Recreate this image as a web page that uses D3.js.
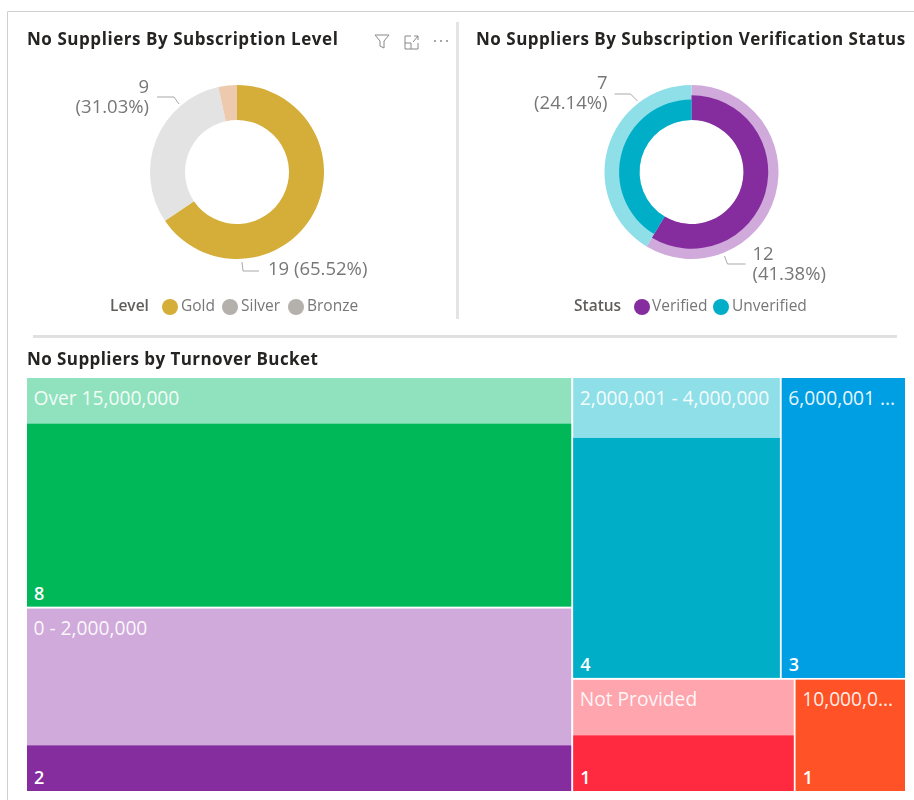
<!DOCTYPE html>
<html>
<head>
<meta charset="utf-8">
<script src="https://cdn.jsdelivr.net/npm/d3@7"></script>
<style>
  html, body { margin: 0; padding: 0; background: #fff; }
  svg { display: block; filter: blur(0.35px); }
  text { font-family: "Open Sans", sans-serif; }
  .title { font-weight: 700; font-size: 17px; fill: #252423; letter-spacing: 0.55px; }
  .title.wide { letter-spacing: 0.5px; }
  .title.low { letter-spacing: 0.42px; }
  .label { font-size: 18.5px; fill: #777; }
  .legend-title { font-size: 15.5px; font-weight: 600; fill: #605e5c; }
  .legend { font-size: 15.5px; fill: #777; }
  .bucket { font-size: 19.2px; fill: #fff; fill-opacity: 0.92; }
  .count { font-size: 18px; font-weight: 600; fill: #fff; }
</style>
</head>
<body>
<script>
'use strict';

// subscription level donut
var levels = ['Gold', 'Silver', 'Bronze'];
var levelCounts = [19, 9, 1];
var levelColors = ['#d4ae38', '#e3e3e3', '#edc9ae'];
var levelLegendColors = ['#d4ae38', '#b4b0ab', '#b4b0ab'];

// verification donut: ring size is the total, dark part is the verified count
var statuses = ['Verified', 'Unverified'];
var statusTotals = [17, 12];
var statusCounts = [12, 7];
var statusColors = ['#852d9e', '#00aec7'];
var statusPale = ['#cfaada', '#8fdfe8'];

// turnover treemap
var buckets = ['Over 15,000,000', '0 - 2,000,000', '2,000,001 - 4,000,000', '6,000,001 ...', 'Not Provided', '10,000,0...'];
var bucketTotals = [10, 8, 5, 3, 2, 1];
var bucketCounts = [8, 2, 4, 3, 1, 1];
var bucketColors = ['#00b858', '#852d9e', '#00aec7', '#009fe3', '#ff2a40', '#ff5226'];
var bucketPale = ['#8fe2bd', '#cfaada', '#8fdfe8', '#009fe3', '#ffa5ae', '#ff5226'];
var bucketLayout = [[0, 1], [[2, 3], [4, 5]]];

var width = 914, height = 800;
var innerRadius = 52, outerRadius = 87;
var total = d3.sum(levelCounts);

var svg = d3.select('body').append('svg')
    .attr('width', width)
    .attr('height', height);

// frame and dividers
svg.append('path')
    .attr('d', 'M7.5,800V11.5H914')
    .attr('fill', 'none')
    .attr('stroke', '#d0d0d0')
    .attr('stroke-width', 1);
svg.append('rect').attr('x', 456).attr('y', 22).attr('width', 3).attr('height', 297).attr('fill', '#e4e4e4');
svg.append('rect').attr('x', 33).attr('y', 335).attr('width', 864).attr('height', 3).attr('fill', '#e0e0e0');

svg.append('text').attr('class', 'title').attr('x', 27).attr('y', 45).text('No Suppliers By Subscription Level');
svg.append('text').attr('class', 'title wide').attr('x', 476).attr('y', 45).text('No Suppliers By Subscription Verification Status');
svg.append('text').attr('class', 'title low').attr('x', 27).attr('y', 365).text('No Suppliers by Turnover Bucket');

// header icons on the first visual
var icons = svg.append('g')
    .attr('fill', 'none')
    .attr('stroke', '#8a8886')
    .attr('stroke-width', 1);
icons.append('path').attr('d', 'M375,35H389L384,41V48L380,46V41Z');
icons.append('path').attr('d', 'M411,36H405V49H418V43M405,43H411V49M413,42L418,36M414,36H418V40');
svg.append('g').attr('fill', '#8a8886').selectAll('circle')
    .data([435, 441, 447])
    .join('circle')
    .attr('cx', function(d) { return d; })
    .attr('cy', 41)
    .attr('r', 1);

var pie = d3.pie().sort(null).value(function(d) { return d; });
var radius = d3.scaleLinear().domain([0, 1]).range([innerRadius, outerRadius]);
var leader = d3.line();

function leaderLines(g, lines) {
  g.selectAll('path.leader')
      .data(lines)
      .join('path')
      .attr('class', 'leader')
      .attr('d', leader)
      .attr('fill', 'none')
      .attr('stroke', '#a8a8a8')
      .attr('stroke-width', 1);
}

// each label is one text, wrapped with tspans
function labelBlocks(g, blocks) {
  var text = g.selectAll('text.label')
      .data(blocks)
      .join('text')
      .attr('class', 'label')
      .attr('x', function(d) { return d.x; })
      .attr('y', function(d) { return d.y; })
      .attr('text-anchor', function(d) { return d.anchor; });
  text.selectAll('tspan')
      .data(function(d) { return d.lines.map(function(line) { return {x: d.x, text: line}; }); })
      .join('tspan')
      .attr('x', function(d) { return d.x; })
      .attr('dy', function(d, i) { return i ? 20 : 0; })
      .text(function(d) { return d.text; });
}

function percent(v) {
  return '(' + d3.format('.2f')(v / total * 100) + '%)';
}

function legend(title, titleX, names, colors, dots, texts) {
  svg.append('text').attr('class', 'legend-title').attr('x', titleX).attr('y', 311).text(title);
  names.forEach(function(name, i) {
    svg.append('circle').attr('cx', dots[i]).attr('cy', 307).attr('r', 8).attr('fill', colors[i]);
    svg.append('text').attr('class', 'legend').attr('x', texts[i]).attr('y', 311).text(name);
  });
}

// level donut
var levelArc = d3.arc().innerRadius(innerRadius).outerRadius(outerRadius);
var levelDonut = svg.append('g').attr('transform', 'translate(237,172)');
levelDonut.selectAll('path.slice')
    .data(pie(levelCounts))
    .join('path')
    .attr('class', 'slice')
    .attr('d', levelArc)
    .attr('fill', function(d, i) { return levelColors[i]; });
leaderLines(levelDonut, [
  [[-80, -75], [-63, -75], [-58, -68]],
  [[5, 90], [6, 99], [22, 99]]
]);
labelBlocks(levelDonut, [
  {x: -88, y: -79, anchor: 'end', lines: [levelCounts[1], percent(levelCounts[1])]},
  {x: 31, y: 103, anchor: 'start', lines: [levelCounts[0] + ' ' + percent(levelCounts[0])]}
]);
legend('Level', 110, levels, levelLegendColors, [170, 230, 296], [181, 241, 307]);

// verification donut
var statusDonut = svg.append('g').attr('transform', 'translate(691.5,172)');
var statusArcs = pie(statusTotals);
statusDonut.selectAll('path.pale')
    .data(statusArcs)
    .join('path')
    .attr('class', 'pale')
    .attr('d', d3.arc().innerRadius(innerRadius).outerRadius(outerRadius))
    .attr('fill', function(d, i) { return statusPale[i]; });
statusDonut.selectAll('path.dark')
    .data(statusArcs)
    .join('path')
    .attr('class', 'dark')
    .attr('d', function(d, i) {
      return d3.arc().innerRadius(innerRadius).outerRadius(radius(statusCounts[i] / statusTotals[i]))(d);
    })
    .attr('fill', function(d, i) { return statusColors[i]; });
leaderLines(statusDonut, [
  [[-77, -78], [-61, -78], [-54, -71]],
  [[33, 84], [36, 92], [54, 92]]
]);
labelBlocks(statusDonut, [
  {x: -84, y: -83, anchor: 'end', lines: [statusCounts[1], percent(statusCounts[1])]},
  {x: 61, y: 88, anchor: 'start', lines: [statusCounts[0], percent(statusCounts[0])]}
]);
legend('Status', 574, statuses, statusColors, [642, 721], [652, 732]);

// treemap: dice the root, slice the groups, dice the rows
function toNode(item) {
  if (Array.isArray(item)) return {children: item.map(toNode)};
  return {index: item, value: bucketTotals[item]};
}

var root = d3.hierarchy(toNode(bucketLayout))
    .sum(function(d) { return d.value || 0; });

d3.treemap()
    .size([878, 413])
    .paddingInner(2)
    .tile(function(node, x0, y0, x1, y1) {
      (node.depth === 1 ? d3.treemapSlice : d3.treemapDice)(node, x0, y0, x1, y1);
    })(root);

var cells = svg.append('g')
    .attr('transform', 'translate(27,378)')
    .selectAll('g')
    .data(root.leaves())
    .join('g')
    .attr('transform', function(d) { return 'translate(' + d.x0 + ',' + d.y0 + ')'; });

cells.append('rect')
    .attr('width', function(d) { return d.x1 - d.x0; })
    .attr('height', function(d) { return d.y1 - d.y0; })
    .attr('fill', function(d) { return bucketPale[d.data.index]; });

var share = d3.scaleLinear().domain([0, 1]);
cells.append('rect')
    .attr('y', function(d) {
      var h = d.y1 - d.y0;
      return share.range([h, 0])(bucketCounts[d.data.index] / bucketTotals[d.data.index]);
    })
    .attr('width', function(d) { return d.x1 - d.x0; })
    .attr('height', function(d) {
      var h = d.y1 - d.y0;
      return share.range([0, h])(bucketCounts[d.data.index] / bucketTotals[d.data.index]);
    })
    .attr('fill', function(d) { return bucketColors[d.data.index]; });

cells.append('text')
    .attr('class', 'bucket')
    .attr('x', 6.5)
    .attr('y', 26.5)
    .text(function(d) { return buckets[d.data.index]; });

cells.append('text')
    .attr('class', 'count')
    .attr('x', 7)
    .attr('y', function(d) { return d.y1 - d.y0 - 7; })
    .text(function(d) { return bucketCounts[d.data.index]; });
</script>
</body>
</html>
